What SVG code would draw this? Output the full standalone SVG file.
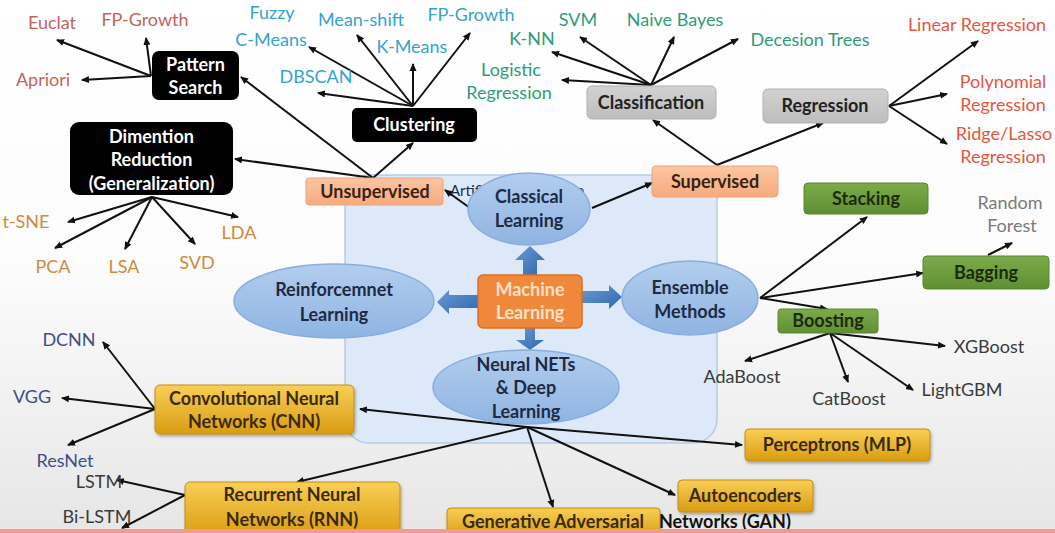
<svg xmlns="http://www.w3.org/2000/svg" width="1055" height="533" viewBox="0 0 1055 533">
  <defs>
    <linearGradient id="bg" x1="0" y1="0" x2="0" y2="1">
      <stop offset="0" stop-color="#ffffff"/>
      <stop offset="0.5" stop-color="#fcfcfc"/>
      <stop offset="1" stop-color="#e6e6e6"/>
    </linearGradient>
    <linearGradient id="ell" x1="0" y1="0" x2="0" y2="1">
      <stop offset="0" stop-color="#b2cdee"/>
      <stop offset="1" stop-color="#8fb4e2"/>
    </linearGradient>
    <linearGradient id="gold" x1="0" y1="0" x2="0" y2="1">
      <stop offset="0" stop-color="#f9cf55"/>
      <stop offset="1" stop-color="#d99c12"/>
    </linearGradient>
    <linearGradient id="green" x1="0" y1="0" x2="0" y2="1">
      <stop offset="0" stop-color="#7dab4b"/>
      <stop offset="1" stop-color="#5f8f31"/>
    </linearGradient>
    <linearGradient id="gray" x1="0" y1="0" x2="0" y2="1">
      <stop offset="0" stop-color="#d2d2d2"/>
      <stop offset="1" stop-color="#bdbdbd"/>
    </linearGradient>
    <linearGradient id="peach" x1="0" y1="0" x2="0" y2="1">
      <stop offset="0" stop-color="#fcc6a2"/>
      <stop offset="1" stop-color="#f6aa7e"/>
    </linearGradient>
    <linearGradient id="blockArrow" x1="0" y1="0" x2="1" y2="1">
      <stop offset="0" stop-color="#6d98d0"/>
      <stop offset="1" stop-color="#2f68b2"/>
    </linearGradient>
    <marker id="ah" viewBox="0 0 8 8" refX="7" refY="4" markerWidth="8" markerHeight="8" markerUnits="userSpaceOnUse" orient="auto">
      <path d="M0,0.5 L8,4 L0,7.5 z" fill="#111"/>
    </marker>
    <filter id="sh" x="-10%" y="-20%" width="120%" height="150%">
      <feDropShadow dx="1" dy="2" stdDeviation="1.5" flood-color="#000" flood-opacity="0.3"/>
    </filter>
  </defs>
  <style>
    text { font-family: Lato, "Open Sans", "Liberation Sans", sans-serif; text-anchor: middle; }
    .leaf { font-size: 18px; }
    .hub { font-size: 18px; font-weight: bold; }
    .white { fill: #ffffff; }
    .dark { fill: #1e2a44; }
    .ellipse { fill: url(#ell); stroke: #8aaedb; stroke-width: 1.5; }
    .black { fill: #000000; }
    .goldbox { fill: url(#gold); stroke: #c48c10; stroke-width: 1; filter: url(#sh); }
    .greenbox { fill: url(#green); stroke: #5a8530; stroke-width: 1; }
    .graybox { fill: url(#gray); stroke: #b0b0b0; stroke-width: 1; }
    .peachbox { fill: url(#peach); stroke: #eea27a; stroke-width: 1; }
    .c-red { fill: #c4645a; }
    .c-cyan { fill: #35a3cf; }
    .c-teal { fill: #2f9c76; }
    .c-orange-red { fill: #e6553f; }
    .c-amber { fill: #cf8a3e; }
    .c-navy { fill: #3e4f86; }
    .c-char { fill: #3a3a3a; }
    .c-mid { fill: #7a7a7a; }
    .conn line { stroke: #111; stroke-width: 2; fill: none; }
    .arr { marker-end: url(#ah); }
  </style>

  <!-- page background -->
  <rect x="0" y="0" width="1055" height="533" fill="url(#bg)"/>

  <!-- Artificial Intelligence panel -->
  <g id="ai-panel">
    <rect x="345" y="175" width="372" height="268" rx="24" fill="#dde9f8" stroke="#b6cae4" stroke-width="1.5"/>
    <text x="450" y="196" font-size="15" fill="#1e2a44" style="text-anchor:start">Artificial Intelligence</text>
  </g>

  <!-- connectors -->
  <g id="connectors" class="conn">
    <!-- Pattern Search -->
    <line class="arr" x1="151" y1="76" x2="57" y2="40"/>
    <line class="arr" x1="151" y1="76" x2="146" y2="38"/>
    <line class="arr" x1="151" y1="76" x2="82" y2="80"/>
    <!-- Unsupervised -->
    <line class="arr" x1="373" y1="178" x2="241" y2="77"/>
    <line class="arr" x1="373" y1="178" x2="235" y2="159"/>
    <line class="arr" x1="373" y1="178" x2="413" y2="143"/>
    <!-- Clustering -->
    <line class="arr" x1="413" y1="106" x2="309" y2="47"/>
    <line class="arr" x1="413" y1="106" x2="357" y2="35"/>
    <line class="arr" x1="413" y1="106" x2="413" y2="64"/>
    <line class="arr" x1="413" y1="106" x2="470" y2="33"/>
    <line class="arr" x1="413" y1="106" x2="318" y2="93"/>
    <!-- Classical Learning -->
    <line class="arr" x1="470" y1="208" x2="445" y2="190"/>
    <line class="arr" x1="592" y1="208" x2="652" y2="183"/>
    <!-- Supervised -->
    <line class="arr" x1="717" y1="165" x2="653" y2="120"/>
    <line class="arr" x1="717" y1="165" x2="823" y2="123"/>
    <!-- Classification -->
    <line class="arr" x1="651" y1="85" x2="562" y2="80"/>
    <line class="arr" x1="651" y1="85" x2="552" y2="52"/>
    <line class="arr" x1="651" y1="85" x2="580" y2="37"/>
    <line class="arr" x1="651" y1="85" x2="674" y2="37"/>
    <line class="arr" x1="651" y1="85" x2="738" y2="39"/>
    <!-- Regression -->
    <line class="arr" x1="889" y1="106" x2="978" y2="41"/>
    <line class="arr" x1="889" y1="106" x2="947" y2="94"/>
    <line class="arr" x1="889" y1="106" x2="947" y2="144"/>
    <!-- Dimention Reduction -->
    <line class="arr" x1="152" y1="197" x2="68" y2="222"/>
    <line class="arr" x1="152" y1="197" x2="55" y2="248"/>
    <line class="arr" x1="152" y1="197" x2="125" y2="249"/>
    <line class="arr" x1="152" y1="197" x2="195" y2="244"/>
    <line class="arr" x1="152" y1="197" x2="238" y2="217"/>
    <!-- Ensemble Methods -->
    <line class="arr" x1="760" y1="298" x2="867" y2="217"/>
    <line class="arr" x1="760" y1="298" x2="923" y2="273"/>
    <line class="arr" x1="760" y1="298" x2="827" y2="309"/>
    <line class="arr" x1="988" y1="255" x2="1012" y2="243"/>
    <!-- Boosting -->
    <line class="arr" x1="830" y1="333" x2="745" y2="361"/>
    <line class="arr" x1="830" y1="333" x2="848" y2="382"/>
    <line class="arr" x1="830" y1="333" x2="913" y2="390"/>
    <line class="arr" x1="830" y1="333" x2="945" y2="346"/>
    <!-- CNN -->
    <line class="arr" x1="155" y1="409" x2="103" y2="342"/>
    <line class="arr" x1="155" y1="409" x2="62" y2="398"/>
    <line class="arr" x1="155" y1="409" x2="68" y2="445"/>
    <!-- RNN -->
    <line class="arr" x1="185" y1="495" x2="117" y2="480"/>
    <line class="arr" x1="185" y1="495" x2="122" y2="528"/>
    <!-- Neural NETs & Deep Learning -->
    <line class="arr" x1="527" y1="427" x2="360" y2="409"/>
    <line class="arr" x1="527" y1="427" x2="742" y2="445"/>
    <line class="arr" x1="527" y1="427" x2="297" y2="482"/>
    <line class="arr" x1="527" y1="427" x2="553" y2="507"/>
    <line class="arr" x1="527" y1="427" x2="675" y2="495"/>
  </g>

  <!-- central block arrows -->
  <g id="block-arrows" fill="url(#blockArrow)">
    <polygon points="523,275 523,260 515,260 530,246 545,260 537,260 537,275"/>
    <polygon points="478,295 449,295 449,290 437,302 449,314 449,308 478,308"/>
    <polygon points="582,291 609,291 609,285 622,297 609,309 609,303 582,303"/>
    <polygon points="525,328 525,340 516,340 530,350 544,340 535,340 535,328"/>
  </g>

  <!-- learning areas -->
  <g id="classical-learning">
    <ellipse class="ellipse" cx="529" cy="209" rx="61" ry="36"/>
    <text class="hub dark" x="529" y="203">Classical</text>
    <text class="hub dark" x="529" y="227">Learning</text>
  </g>
  <g id="reinforcement-learning">
    <ellipse class="ellipse" cx="334" cy="301" rx="100" ry="37"/>
    <text class="hub dark" x="334" y="296">Reinforcemnet</text>
    <text class="hub dark" x="334" y="321">Learning</text>
  </g>
  <g id="ensemble-methods">
    <ellipse class="ellipse" cx="690" cy="298" rx="68" ry="37"/>
    <text class="hub dark" x="690" y="294">Ensemble</text>
    <text class="hub dark" x="690" y="318">Methods</text>
  </g>
  <g id="neural-nets">
    <ellipse class="ellipse" cx="526" cy="387" rx="93" ry="37"/>
    <text class="hub dark" x="526" y="371">Neural NETs</text>
    <text class="hub dark" x="526" y="394">&amp; Deep</text>
    <text class="hub dark" x="526" y="418">Learning</text>
  </g>
  <g id="machine-learning">
    <rect x="478" y="275" width="104" height="53" rx="5" fill="#f0883c" stroke="#dc6e22" stroke-width="1.5"/>
    <text class="hub" x="530" y="296" fill="#fde2c6">Machine</text>
    <text class="hub" x="530" y="319" fill="#fde2c6">Learning</text>
  </g>

  <!-- unsupervised branch -->
  <g id="unsupervised">
    <rect class="peachbox" x="306" y="178" width="137" height="27" rx="3"/>
    <text class="hub" x="375" y="198" fill="#3a2212">Unsupervised</text>
  </g>
  <g id="pattern-search">
    <rect class="black" x="152" y="51" width="87" height="49" rx="7"/>
    <text class="hub white" x="195.5" y="71">Pattern</text>
    <text class="hub white" x="195.5" y="94">Search</text>
  </g>
  <g id="clustering">
    <rect class="black" x="352" y="108" width="125" height="34" rx="5"/>
    <text class="hub white" x="414" y="131">Clustering</text>
  </g>
  <g id="dimention-reduction">
    <rect class="black" x="70" y="122" width="163" height="73" rx="9"/>
    <text class="hub white" x="151.5" y="143" font-size="19.5">Dimention</text>
    <text class="hub white" x="151.5" y="166" font-size="19.5">Reduction</text>
    <text class="hub white" x="151.5" y="190" font-size="19.5">(Generalization)</text>
  </g>

  <!-- supervised branch -->
  <g id="supervised">
    <rect class="peachbox" x="652" y="166" width="126" height="31" rx="4"/>
    <text class="hub" x="715" y="188" fill="#3a2212">Supervised</text>
  </g>
  <g id="classification">
    <rect class="graybox" x="587" y="86" width="129" height="33" rx="5"/>
    <text class="hub" x="651" y="109" fill="#222">Classification</text>
  </g>
  <g id="regression">
    <rect class="graybox" x="763" y="89" width="125" height="34" rx="5"/>
    <text class="hub" x="825" y="112" fill="#222">Regression</text>
  </g>

  <!-- ensemble branch -->
  <g id="stacking">
    <rect class="greenbox" x="804" y="183" width="124" height="31" rx="4"/>
    <text class="hub" x="866" y="205" fill="#1c2a10">Stacking</text>
  </g>
  <g id="bagging">
    <rect class="greenbox" x="923" y="256" width="126" height="33" rx="4"/>
    <text class="hub" x="986" y="279" fill="#1c2a10">Bagging</text>
  </g>
  <g id="boosting">
    <rect class="greenbox" x="778" y="309" width="100" height="24" rx="3"/>
    <text class="hub" x="828" y="327" fill="#1c2a10">Boosting</text>
  </g>

  <!-- neural network branch -->
  <g id="cnn">
    <rect class="goldbox" x="155" y="385" width="199" height="49" rx="5"/>
    <text class="hub" x="254" y="405" fill="#3a2a06">Convolutional Neural</text>
    <text class="hub" x="254" y="428" fill="#3a2a06">Networks (CNN)</text>
  </g>
  <g id="rnn">
    <rect class="goldbox" x="185" y="482" width="215" height="55" rx="5"/>
    <text class="hub" x="292" y="501" fill="#3a2a06">Recurrent Neural</text>
    <text class="hub" x="292" y="526" fill="#3a2a06">Networks (RNN)</text>
  </g>
  <g id="perceptrons">
    <rect class="goldbox" x="745" y="429" width="185" height="32" rx="4"/>
    <text class="hub" x="837" y="451" fill="#3a2a06">Perceptrons (MLP)</text>
  </g>
  <g id="autoencoders">
    <rect class="goldbox" x="678" y="480" width="135" height="32" rx="4"/>
    <text class="hub" x="745" y="502" fill="#3a2a06">Autoencoders</text>
  </g>
  <g id="gan">
    <rect class="goldbox" x="447" y="508" width="213" height="30" rx="4"/>
    <text class="hub" x="553" y="528" fill="#3a2a06">Generative Adversarial</text>
    <text class="hub" x="659" y="528" fill="#111" style="text-anchor:start">Networks (GAN)</text>
  </g>

  <!-- leaf labels -->
  <g id="leaves-pattern">
    <text class="leaf c-red" x="52" y="29">Euclat</text>
    <text class="leaf c-red" x="145" y="26">FP-Growth</text>
    <text class="leaf c-red" x="43" y="86">Apriori</text>
  </g>
  <g id="leaves-clustering">
    <text class="leaf c-cyan" x="272" y="19">Fuzzy</text>
    <text class="leaf c-cyan" x="271" y="46">C-Means</text>
    <text class="leaf c-cyan" x="361" y="26">Mean-shift</text>
    <text class="leaf c-cyan" x="471" y="21">FP-Growth</text>
    <text class="leaf c-cyan" x="412" y="53">K-Means</text>
    <text class="leaf c-cyan" x="316" y="83">DBSCAN</text>
  </g>
  <g id="leaves-classification">
    <text class="leaf c-teal" x="511" y="76">Logistic</text>
    <text class="leaf c-teal" x="509" y="99">Regression</text>
    <text class="leaf c-teal" x="532" y="45">K-NN</text>
    <text class="leaf c-teal" x="578" y="26">SVM</text>
    <text class="leaf c-teal" x="675" y="26">Naive Bayes</text>
    <text class="leaf c-teal" x="810" y="46">Decesion Trees</text>
  </g>
  <g id="leaves-regression">
    <text class="leaf c-orange-red" x="977" y="31">Linear Regression</text>
    <text class="leaf c-orange-red" x="1003" y="88">Polynomial</text>
    <text class="leaf c-orange-red" x="1003" y="111">Regression</text>
    <text class="leaf c-orange-red" x="1004" y="140">Ridge/Lasso</text>
    <text class="leaf c-orange-red" x="1003" y="163">Regression</text>
  </g>
  <g id="leaves-bagging">
    <text class="leaf c-mid" x="1010" y="209">Random</text>
    <text class="leaf c-mid" x="1012" y="232">Forest</text>
  </g>
  <g id="leaves-dimention">
    <text class="leaf c-amber" x="26" y="228">t-SNE</text>
    <text class="leaf c-amber" x="53" y="273">PCA</text>
    <text class="leaf c-amber" x="124" y="273">LSA</text>
    <text class="leaf c-amber" x="197" y="269">SVD</text>
    <text class="leaf c-amber" x="239" y="239">LDA</text>
  </g>
  <g id="leaves-cnn">
    <text class="leaf c-navy" x="69" y="346">DCNN</text>
    <text class="leaf c-navy" x="32" y="403">VGG</text>
    <text class="leaf c-navy" x="65" y="467">ResNet</text>
  </g>
  <g id="leaves-rnn">
    <text class="leaf c-char" x="99" y="488">LSTM</text>
    <text class="leaf c-char" x="97" y="523">Bi-LSTM</text>
  </g>
  <g id="leaves-boosting">
    <text class="leaf c-char" x="742" y="383">AdaBoost</text>
    <text class="leaf c-char" x="849" y="405">CatBoost</text>
    <text class="leaf c-char" x="962" y="396">LightGBM</text>
    <text class="leaf c-char" x="989" y="353">XGBoost</text>
  </g>

  <!-- bottom strip -->
  <rect x="0" y="529" width="1055" height="4" fill="#f29a94"/>
</svg>
